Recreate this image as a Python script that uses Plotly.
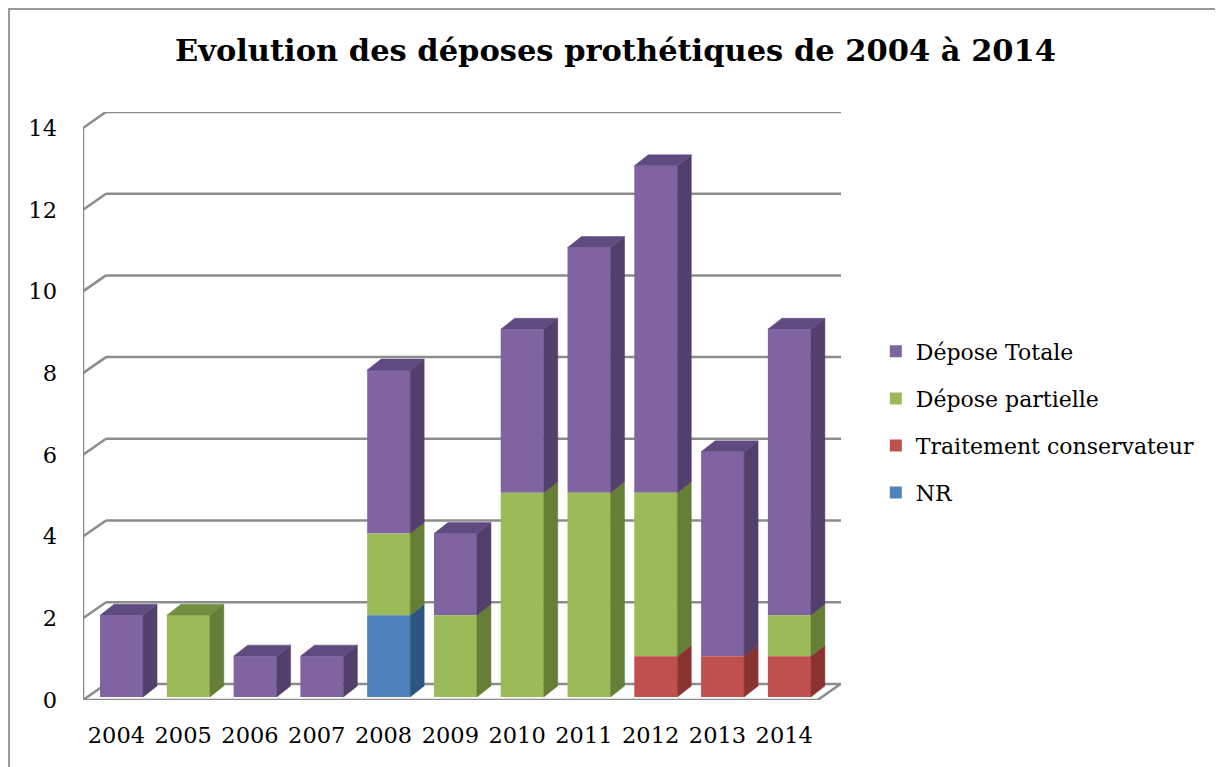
import plotly.graph_objects as go

# ---------------- data ----------------
years = ["2004", "2005", "2006", "2007", "2008", "2009", "2010", "2011", "2012", "2013", "2014"]
nr = [0, 0, 0, 0, 2, 0, 0, 0, 0, 0, 0]
traitement = [0, 0, 0, 0, 0, 0, 0, 0, 1, 1, 1]
partielle = [0, 2, 0, 0, 2, 2, 5, 5, 4, 0, 1]
totale = [2, 0, 1, 1, 4, 2, 4, 6, 8, 5, 7]
y_ticks = [0, 2, 4, 6, 8, 10, 12, 14]

# stacking order bottom -> top
series = [
    ("NR", nr, "#4F81BD", "#2E5482", "#3A6499"),
    ("Traitement conservateur", traitement, "#C0504D", "#8A3331", "#9E3E3B"),
    ("Dépose partielle", partielle, "#9BBB59", "#657F37", "#728F40"),
    ("Dépose Totale", totale, "#8064A2", "#523F6B", "#5F4B80"),
]
legend_order = ["Dépose Totale", "Dépose partielle", "Traitement conservateur", "NR"]

# ---------------- geometry ----------------
OFF = 8  # page body margin
W, H = 1223 - OFF, 767 - OFF
L, T = 83 - OFF, 112 - OFF
PX_X, PX_Y = 66.8, 40.86
X0, X1 = -0.5, 10.85
Y0, Y1 = 0.0, 14.39
pw = (X1 - X0) * PX_X
ph = (Y1 - Y0) * PX_Y
R = W - L - pw
B = H - T - ph

wall_dx, wall_dy = 23 / PX_X, 16 / PX_Y
bar_off_x, bar_off_y = 0.077, 3 / PX_Y
bar_w = 0.644
bar_dx, bar_dy = 14 / PX_X, 11 / PX_Y
n = len(years)
floor_end = n - 0.5

fig = go.Figure()

bases = {}
cum = [0.0] * n
for name, vals, *_ in series:
    bases[name] = cum[:]
    cum = [c + v for c, v in zip(cum, vals)]

top_series = []
for i in range(n):
    top = None
    for name, vals, *_ in series:
        if vals[i] > 0:
            top = name
    top_series.append(top)

smap = {s[0]: s for s in series}
for name in legend_order:
    _, vals, col, side, topc = smap[name]
    fig.add_trace(go.Bar(
        x=[i + bar_off_x for i in range(n)],
        y=vals,
        base=[b + bar_off_y for b in bases[name]],
        width=bar_w,
        marker=dict(color=col, line=dict(width=0)),
        name=name,
        legendgroup=name,
        hoverinfo="skip",
    ))

for name, vals, col, side, topc in series:
    sx, sy, tx, ty = [], [], [], []
    for i in range(n):
        v = vals[i]
        if v <= 0:
            continue
        xr = i + bar_off_x + bar_w / 2
        xl = i + bar_off_x - bar_w / 2
        y0 = bases[name][i] + bar_off_y
        y1 = y0 + v
        sx += [xr, xr + bar_dx, xr + bar_dx, xr, xr, None]
        sy += [y0, y0 + bar_dy, y1 + bar_dy, y1, y0, None]
        if top_series[i] == name:
            tx += [xl, xr, xr + bar_dx, xl + bar_dx, xl, None]
            ty += [y1, y1, y1 + bar_dy, y1 + bar_dy, y1, None]
    if sx:
        fig.add_trace(go.Scatter(x=sx, y=sy, fill="toself", fillcolor=side, mode="lines",
                                 line=dict(color=side, width=0.5), showlegend=False,
                                 hoverinfo="skip", legendgroup=name))
    if tx:
        fig.add_trace(go.Scatter(x=tx, y=ty, fill="toself", fillcolor=topc, mode="lines",
                                 line=dict(color=topc, width=0.5), showlegend=False,
                                 hoverinfo="skip", legendgroup=name))

gc = "#8C8C8C"
gw = 2.5
shapes = []
for v in y_ticks:
    shapes.append(dict(type="line", x0=X0 + wall_dx, x1=X1, y0=v + wall_dy, y1=v + wall_dy,
                       line=dict(color=gc, width=gw), layer="below"))
    shapes.append(dict(type="line", x0=X0, x1=X0 + wall_dx, y0=v, y1=v + wall_dy,
                       line=dict(color=gc, width=gw), layer="below"))
shapes.append(dict(type="line", x0=X0, x1=X0, y0=0, y1=y_ticks[-1],
                   line=dict(color=gc, width=gw), layer="below"))
shapes.append(dict(type="line", x0=X0, x1=floor_end, y0=0, y1=0,
                   line=dict(color=gc, width=gw), layer="below"))
shapes.append(dict(type="line", x0=floor_end, x1=floor_end + wall_dx, y0=0, y1=wall_dy,
                   line=dict(color=gc, width=gw), layer="below"))


def px_to_paper_x(px):
    return (px - L) / pw


def px_to_paper_y(py):
    return (T + ph - py) / ph


# outer border (figure pixel coords)
shapes.append(dict(type="rect", xref="paper", yref="paper",
                   x0=px_to_paper_x(1), x1=px_to_paper_x(1221 - OFF),
                   y0=px_to_paper_y(H + 20), y1=px_to_paper_y(1),
                   line=dict(color="#9A9A9A", width=2), fillcolor="rgba(0,0,0,0)", layer="below"))

serif = "DejaVu Serif"
fig.update_layout(
    width=W, height=H,
    margin=dict(l=L, r=R, t=T, b=B, autoexpand=False),
    paper_bgcolor="white", plot_bgcolor="white",
    barmode="overlay",
    title=dict(text="<b>Evolution des déposes prothétiques de 2004 à 2014</b>",
               x=0.5, xref="container", xanchor="center", y=1 - (50 - OFF) / H, yanchor="middle",
               font=dict(family=serif, size=30.5, color="black")),
    xaxis=dict(range=[X0, X1], tickvals=list(range(n)), ticktext=years,
               showgrid=False, zeroline=False, showline=False, ticks="",
               ticklabelstandoff=19,
               tickfont=dict(family=serif, size=22.5, color="black")),
    yaxis=dict(range=[Y0, Y1], tickvals=y_ticks, showgrid=False, zeroline=False,
               showline=False, ticks="", ticklabelstandoff=25,
               tickfont=dict(family=serif, size=22.5, color="black")),
    legend=dict(x=px_to_paper_x(876 - OFF), xanchor="left", y=px_to_paper_y(422 - OFF),
                yanchor="middle",
                traceorder="grouped", tracegroupgap=15.5, itemwidth=30,
                font=dict(family=serif, size=22, color="black"),
                bgcolor="rgba(0,0,0,0)"),
    shapes=shapes,
    showlegend=True,
)

fig.write_html("out.html")
